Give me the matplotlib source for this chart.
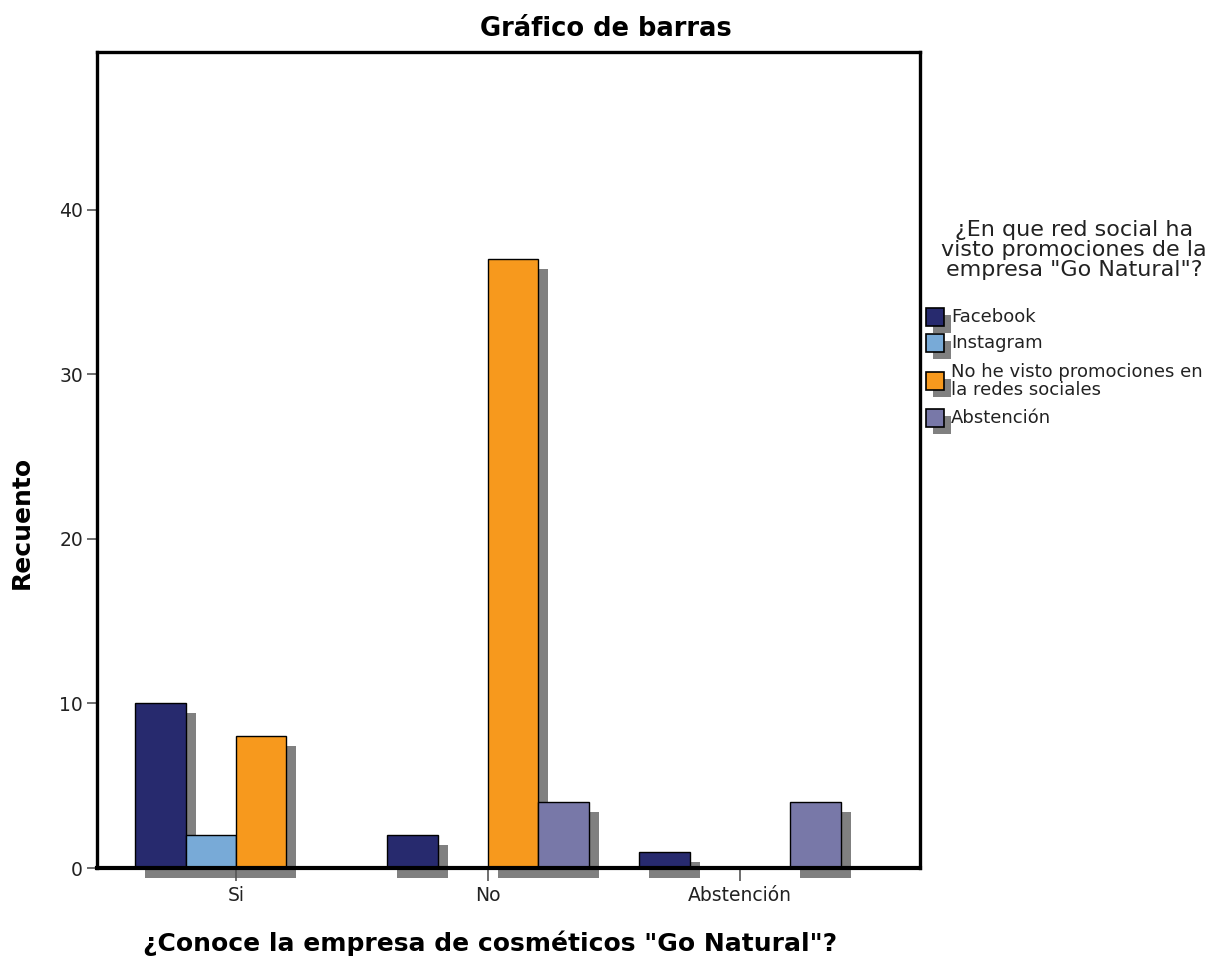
import matplotlib.pyplot as plt
import matplotlib.transforms as mtransforms
from matplotlib.patches import Rectangle
import numpy as np

# Datos
categorias = ['Si', 'No', 'Abstención']
series = ['Facebook', 'Instagram',
          'No he visto promociones en\nla redes sociales', 'Abstención']
facebook = [10, 2, 1]
instagram = [2, 0, 0]
no_visto = [8, 37, 0]
abstencion = [0, 4, 4]
colores = ['#272A6E', '#78AAD7', '#F7991D', '#7878A8']

plt.rcParams['font.family'] = 'DejaVu Sans'

W, H = 1225, 960
fig = plt.figure(figsize=(W / 100, H / 100), dpi=100)
ax = fig.add_axes([97 / W, 92 / H, 823 / W, 816 / H])

valores = [facebook, instagram, no_visto, abstencion]
x = np.arange(len(categorias))
ancho = 0.2

# sombra desplazada 10 px a la derecha y abajo
sombra = mtransforms.offset_copy(ax.transData, fig=fig, x=10, y=-10, units='dots')
for i, serie in enumerate(valores):
    pos = x + (i - 1.5) * ancho
    ax.bar(pos, serie, ancho, color='#808080', transform=sombra,
           clip_on=False, zorder=1, linewidth=0)
for i, serie in enumerate(valores):
    pos = x + (i - 1.5) * ancho
    ax.bar(pos, serie, ancho, color=colores[i], edgecolor='black',
           linewidth=1, zorder=2)

ax.set_xlim(-0.552, 2.714)
ax.set_ylim(0, 49.6)
ax.set_yticks([0, 10, 20, 30, 40])
ax.set_xticks(x)
ax.set_xticklabels(categorias)
ax.tick_params(axis='y', length=7, width=1.2, color='#555555', pad=3,
               labelsize=13.5, labelcolor='#222222')
ax.tick_params(axis='x', length=9, width=1.2, color='#555555', pad=4,
               labelsize=13.5, labelcolor='#222222')
for lado in ['top', 'left', 'right']:
    ax.spines[lado].set_linewidth(2.4)
ax.spines['bottom'].set_linewidth(3)
ax.spines['bottom'].set_zorder(3)

# titulos
fig.text(606 / W, 1 - 29 / H, 'Gráfico de barras', ha='center', va='center',
         fontsize=18.5, fontweight='bold')
fig.text(22 / W, 1 - 522 / H, 'Recuento', ha='center', va='center',
         rotation=90, fontsize=18, fontweight='bold')
fig.text(490 / W, 1 - 943 / H, '¿Conoce la empresa de cosméticos "Go Natural"?',
         ha='center', va='center', fontsize=18, fontweight='bold')

# leyenda
fig.text(1074 / W, 1 - 250 / H,
         '¿En que red social ha\nvisto promociones de la\nempresa "Go Natural"?',
         ha='center', va='center', fontsize=16, linespacing=1.0, color='#222222')
centros = [317, 343, 381, 418]
for nombre, color, yc in zip(series, colores, centros):
    lado = 18
    fig.add_artist(Rectangle(((926 + 7) / W, 1 - (yc + lado / 2 + 7) / H), lado / W, lado / H,
                             transform=fig.transFigure, color='#808080', lw=0))
    fig.add_artist(Rectangle((926 / W, 1 - (yc + lado / 2) / H), lado / W, lado / H,
                             transform=fig.transFigure, facecolor=color,
                             edgecolor='black', lw=1.2))
    fig.text(951 / W, 1 - yc / H, nombre, ha='left', va='center',
             fontsize=13, linespacing=0.95, color='#222222')

plt.savefig('out.png', dpi=100)
